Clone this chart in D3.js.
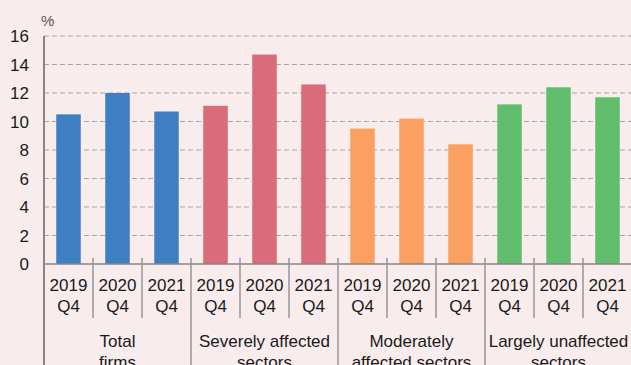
<!DOCTYPE html>
<html>
<head>
<meta charset="utf-8">
<script src="https://cdn.jsdelivr.net/npm/d3@7"></script>
<style>
  html, body { margin: 0; padding: 0; background: #f8ecec; }
  svg { display: block; font-family: "Liberation Sans", Arial, Helvetica, sans-serif; }
</style>
</head>
<body>
<svg id="chart" width="631" height="365"></svg>
<script>
// Share of firms (%) by sector group, Q4 of each year
const groups = ["Total firms", "Severely affected sectors", "Moderately affected sectors", "Largely unaffected sectors"];
const groupLines = [["Total", "firms"], ["Severely affected", "sectors"], ["Moderately", "affected sectors"], ["Largely unaffected", "sectors"]];
const periods = [["2019", "Q4"], ["2020", "Q4"], ["2021", "Q4"]];
const totalFirms = [10.5, 12.0, 10.7];
const severelyAffected = [11.1, 14.7, 12.6];
const moderatelyAffected = [9.5, 10.2, 8.4];
const largelyUnaffected = [11.2, 12.4, 11.7];
const groupColors = ["#3e7fc4", "#da6b7b", "#f9a062", "#5fbd6b"];
const yTicks = [0, 2, 4, 6, 8, 10, 12, 14, 16];

const seriesByGroup = [totalFirms, severelyAffected, moderatelyAffected, largelyUnaffected];
const rows = [];
seriesByGroup.forEach((vals, g) => vals.forEach((v, p) => rows.push({ g, p, v, key: g * 3 + p })));

const svg = d3.select("#chart");
const plotLeft = 44, plotRight = 632, plotTop = 36, plotBottom = 264;
const fontSize = 17;

const x = d3.scaleBand().domain(rows.map(d => d.key)).range([plotLeft, plotRight])
  .paddingInner(0.5).paddingOuter(0.25);
const y = d3.scaleLinear().domain([0, 16]).range([plotBottom, plotTop]);
const step = x.step();

// gridlines
svg.append("g").selectAll("line").data(yTicks.filter(t => t > 0)).join("line")
  .attr("x1", plotLeft).attr("x2", 631)
  .attr("y1", d => y(d)).attr("y2", d => y(d))
  .attr("stroke", "#a9a3a3").attr("stroke-width", 1.2)
  .attr("stroke-dasharray", "5,3");

// bars
svg.append("g").selectAll("rect").data(rows).join("rect")
  .attr("x", d => x(d.key)).attr("width", x.bandwidth())
  .attr("y", d => y(d.v)).attr("height", d => y(0) - y(d.v))
  .attr("fill", d => groupColors[d.g]);

// y tick labels
svg.append("g").selectAll("text").data(yTicks).join("text")
  .attr("x", 29).attr("y", d => y(d)).attr("dy", "0.36em")
  .attr("text-anchor", "end").attr("font-size", fontSize).attr("fill", "#1a1a1a")
  .text(d => d);

svg.append("text").attr("x", 41).attr("y", 26)
  .attr("font-size", 15).attr("fill", "#555").text("%");

// baseline and y axis
svg.append("line").attr("x1", plotLeft).attr("x2", 631).attr("y1", y(0)).attr("y2", y(0))
  .attr("stroke", "#8a8585").attr("stroke-width", 1.5);
svg.append("line").attr("x1", plotLeft).attr("x2", plotLeft).attr("y1", plotTop).attr("y2", 365)
  .attr("stroke", "#8a8585").attr("stroke-width", 2);

// category separators: short between periods, full-height between groups
const seps = d3.range(1, rows.length).map(i => ({ i, xpos: plotLeft + i * step, major: i % 3 === 0 }));
svg.append("g").selectAll("line").data(seps).join("line")
  .attr("x1", d => d.xpos).attr("x2", d => d.xpos)
  .attr("y1", y(0) - 6).attr("y2", d => d.major ? 365 : 318)
  .attr("stroke", "#9a9595").attr("stroke-width", 1.5);

// period labels
const per = svg.append("g").selectAll("text").data(rows).join("text")
  .attr("text-anchor", "middle").attr("font-size", fontSize).attr("fill", "#1a1a1a");
per.append("tspan").attr("x", d => x(d.key) + x.bandwidth() / 2).attr("y", 291).text(d => periods[d.p][0]);
per.append("tspan").attr("x", d => x(d.key) + x.bandwidth() / 2).attr("y", 312).text(d => periods[d.p][1]);

// group labels
const gl = svg.append("g").selectAll("text").data(groups).join("text")
  .attr("text-anchor", "middle").attr("font-size", fontSize).attr("fill", "#1a1a1a");
gl.each(function (d, g) {
  const cx = plotLeft + (g * 3 + 1.5) * step;
  groupLines[g].forEach((ln, k) => {
    d3.select(this).append("tspan").attr("x", cx).attr("y", 347 + k * 21).text(ln);
  });
});
</script>
</body>
</html>
